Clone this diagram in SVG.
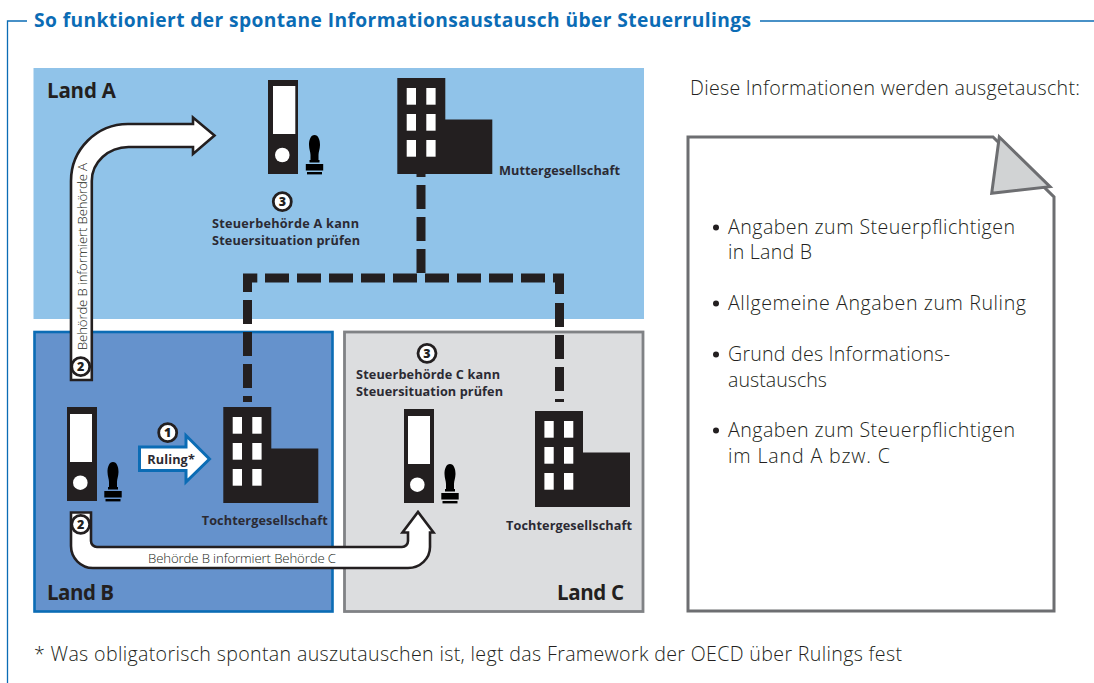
<svg xmlns="http://www.w3.org/2000/svg" width="1094" height="683" viewBox="0 0 1094 683">
<style>
text{font-family:"Open Sans","Noto Sans","Liberation Sans",sans-serif;fill:#231f20}
.b{font-weight:700;font-size:12.7px;fill:#2b2a33}
.land{font-weight:700;font-size:20.5px;fill:#231f20}
.l{font-weight:300;font-size:19.6px;fill:#231f20}
.s{font-weight:300;font-size:13.2px;fill:#231f20}
.n{font-weight:800;font-size:12.5px;text-anchor:middle}
.dash{fill:none;stroke:#231f20;stroke-width:9;stroke-dasharray:24 8}
.solid{fill:none;stroke:#231f20;stroke-width:9}
.arrow{fill:#fff;stroke:#231f20;stroke-width:2.6;stroke-linejoin:miter}
.badge{fill:#fff;stroke:#231f20;stroke-width:2.8}
.ink{fill:#231f20}
.win{fill:#fff}
</style>
<defs>
<g id="building">
<path class="ink" d="M0 0H48V41.500H95V96H0Z"/>
<rect class="win" x="9.400" y="10" width="9.300" height="16.700"/><rect class="win" x="29" y="10" width="9.300" height="16.700"/>
<rect class="win" x="9.400" y="36" width="9.300" height="16.700"/><rect class="win" x="29" y="36" width="9.300" height="16.700"/>
<rect class="win" x="9.400" y="62" width="9.300" height="16.700"/><rect class="win" x="29" y="62" width="9.300" height="16.700"/>
</g>
<g id="stamp">
<path fill="#000" d="M0 0C3.800 0 5.600 5 5.500 10C5.400 14.500 4 17 4 20V25H5V27.500H-5V25H-4V20C-4 17 -5.400 14.500 -5.500 10C-5.600 5 -3.800 0 0 0Z"/>
<rect fill="#000" x="-8.700" y="29" width="17.400" height="6.500"/>
<rect fill="#000" x="-7.500" y="37" width="15" height="2.400"/>
</g>
</defs>
<rect width="1094" height="683" fill="#fff"/>
<g id="frame" fill="none" stroke="#0b6cb5" stroke-width="1.300">
<path d="M7.500 683V21H27"/>
<path d="M760 21H1094"/>
</g>
<text id="title" x="34" y="27" font-size="19.200" font-weight="700" style="fill:#0b6cb5" textLength="717">So funktioniert der spontane Informationsaustausch über Steuerrulings</text>
<g id="land-a"><rect x="33.500" y="68" width="610.500" height="251" fill="#90c3e9"/><text class="land" x="47" y="97.500" textLength="69">Land A</text></g>
<g id="land-b"><rect x="34.500" y="332" width="298" height="279.500" fill="#6592cc" stroke="#0b6cb5" stroke-width="2.600"/><text class="land" x="47" y="600" textLength="67">Land B</text></g>
<g id="land-c"><rect x="344.500" y="332" width="298.500" height="279.500" fill="#dcdddf" stroke="#808285" stroke-width="2.800"/><text class="land" x="557" y="600" textLength="67">Land C</text></g>
<g id="connectors">
<path class="dash" d="M265 278H545"/>
<path class="solid" d="M257.300 278H247.500V292"/>
<path class="solid" d="M553 278H559.500V294"/>
<path class="dash" d="M247.500 300V402"/>
<path class="dash" d="M559.500 303V402"/>
<path class="dash" d="M421 153V273"/>
<path class="arrow" d="M71 380V181A57 57 0 0 1 128.500 124H193V117.500L214.500 135.500L193 154V147H128.500A37 34 0 0 0 91.800 181V380Z"/>
<path class="arrow" d="M71 512.500V546A22 22 0 0 0 93 568H408A22 21 0 0 0 430 547V532.500H433.500L418 512L402.500 532.500H408V541A6 6 0 0 1 402 547H97A6 6 0 0 1 91 541V512.500Z"/>
<path fill="#fff" stroke="#0b6cb5" stroke-width="3" d="M139.500 447H186V435.500L209.500 459L186 482V470.500H139.500Z"/>
<text class="s" transform="translate(87 350) rotate(-90)" textLength="187">Behörde B informiert Behörde A</text>
<text class="s" x="148" y="563" textLength="188">Behörde B informiert Behörde C</text>
<text class="b" x="147.300" y="464" textLength="47.500">Ruling*</text>
</g>
<g id="muttergesellschaft"><use href="#building" x="397.300" y="78"/><text class="b" x="499" y="175" textLength="121">Muttergesellschaft</text></g>
<g id="tochter-b"><use href="#building" x="223.300" y="407"/><text class="b" x="201.700" y="525" textLength="126">Tochtergesellschaft</text></g>
<g id="tochter-c"><use href="#building" x="535" y="411"/><text class="b" x="506" y="530" textLength="126">Tochtergesellschaft</text></g>
<g id="behoerde-a">
<rect class="ink" x="268" y="80" width="30" height="94"/><rect class="win" x="273" y="86" width="22.300" height="48"/><circle class="win" cx="282.300" cy="155" r="7.300"/>
<use href="#stamp" x="314.500" y="135"/>
<circle class="badge" cx="282.300" cy="201.700" r="9"/><text class="n" x="282.300" y="206.200">3</text>
<text class="b" x="212" y="228" textLength="147">Steuerbehörde A kann</text>
<text class="b" x="212" y="245" textLength="148">Steuersituation prüfen</text>
</g>
<g id="behoerde-b">
<rect class="ink" x="67" y="407" width="30" height="94"/><rect class="win" x="70" y="414" width="22" height="48"/><circle class="win" cx="80.300" cy="482.700" r="7.300"/>
<use href="#stamp" x="113" y="462"/>
</g>
<g id="behoerde-c">
<rect class="ink" x="404" y="409" width="30" height="94"/><rect class="win" x="408" y="416" width="22" height="48"/><circle class="win" cx="417.300" cy="484.700" r="7.300"/>
<use href="#stamp" x="450" y="464"/>
<circle class="badge" cx="427" cy="353.300" r="9"/><text class="n" x="427" y="357.800">3</text>
<text class="b" x="356" y="379" textLength="144">Steuerbehörde C kann</text>
<text class="b" x="356" y="396" textLength="147">Steuersituation prüfen</text>
</g>
<g id="badges">
<circle class="badge" cx="80.700" cy="366.700" r="9"/><text class="n" x="80.700" y="371.200">2</text>
<circle class="badge" cx="80.700" cy="524.300" r="9"/><text class="n" x="80.700" y="528.800">2</text>
<circle class="badge" cx="167.700" cy="432.700" r="9"/><text class="n" x="167.700" y="437.200">1</text>
</g>
<text id="info-head" class="l" x="690" y="95" textLength="390">Diese Informationen werden ausgetauscht:</text>
<g id="info-note">
<path fill="#fff" stroke="#6d6e71" stroke-width="3" d="M688 137H993L1054 197V611H688Z"/>
<path fill="#d1d3d4" stroke="#6d6e71" stroke-width="3" stroke-linejoin="miter" d="M999.300 137L1050 186.700L991.700 193.300Z"/>
<circle class="ink" cx="716" cy="227.500" r="3"/>
<text class="l" x="728" y="234" textLength="287">Angaben zum Steuerpflichtigen</text>
<text class="l" x="728" y="259" textLength="84">in Land B</text>
<circle class="ink" cx="716" cy="303.500" r="3"/>
<text class="l" x="728" y="310" textLength="298">Allgemeine Angaben zum Ruling</text>
<circle class="ink" cx="716" cy="354.500" r="3"/>
<text class="l" x="728" y="361" textLength="222">Grund des Informations-</text>
<text class="l" x="728" y="387" textLength="99">austauschs</text>
<circle class="ink" cx="716" cy="430.500" r="3"/>
<text class="l" x="728" y="437" textLength="287">Angaben zum Steuerpflichtigen</text>
<text class="l" x="728" y="463" textLength="162">im Land A bzw. C</text>
</g>
<text id="footnote" class="l" x="34" y="661" textLength="868">* Was obligatorisch spontan auszutauschen ist, legt das Framework der OECD über Rulings fest</text>
</svg>
